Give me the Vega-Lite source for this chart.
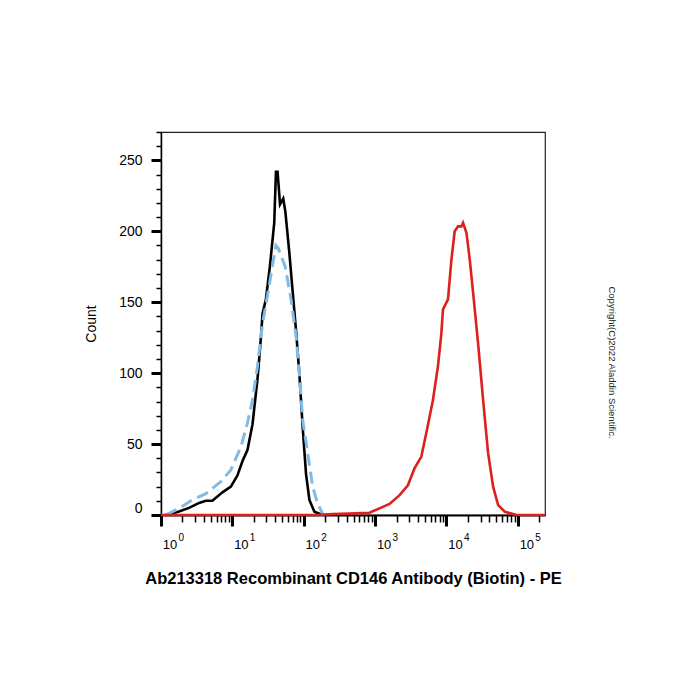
{
  "$schema": "https://vega.github.io/schema/vega-lite/v6.json",
  "width": 384,
  "height": 383,
  "autosize": "none",
  "padding": {"left": 161, "top": 132, "right": 155, "bottom": 185},
  "background": "white",
  "config": {
    "view": {"stroke": "#222", "strokeWidth": 1.2},
    "font": "Liberation Sans",
    "axis": {"grid": false, "labelColor": "#000", "titleColor": "#000", "tickColor": "#000", "domainColor": "#000", "labelFont": "Liberation Sans", "titleFont": "Liberation Sans"}
  },
  "data": {
    "values": [
      {"s": "black", "x": 1.164, "c": 0},
      {"s": "black", "x": 1.79, "c": 2.5},
      {"s": "black", "x": 2.47, "c": 5},
      {"s": "black", "x": 3.42, "c": 8.5},
      {"s": "black", "x": 4.25, "c": 10},
      {"s": "black", "x": 5.25, "c": 10},
      {"s": "black", "x": 7.26, "c": 16},
      {"s": "black", "x": 9.53, "c": 20},
      {"s": "black", "x": 11.8, "c": 28},
      {"s": "black", "x": 13.87, "c": 38},
      {"s": "black", "x": 16.3, "c": 46},
      {"s": "black", "x": 19.14, "c": 64},
      {"s": "black", "x": 22.5, "c": 96},
      {"s": "black", "x": 24.5, "c": 118},
      {"s": "black", "x": 26.5, "c": 142},
      {"s": "black", "x": 29.5, "c": 152},
      {"s": "black", "x": 33.5, "c": 175},
      {"s": "black", "x": 38.6, "c": 206},
      {"s": "black", "x": 40.8, "c": 242},
      {"s": "black", "x": 43.0, "c": 242},
      {"s": "black", "x": 46.5, "c": 219},
      {"s": "black", "x": 51.6, "c": 223},
      {"s": "black", "x": 55.2, "c": 214},
      {"s": "black", "x": 62.8, "c": 185},
      {"s": "black", "x": 69.8, "c": 158},
      {"s": "black", "x": 78.0, "c": 130},
      {"s": "black", "x": 86.7, "c": 100},
      {"s": "black", "x": 96.6, "c": 62},
      {"s": "black", "x": 107.6, "c": 29},
      {"s": "black", "x": 120, "c": 10.6},
      {"s": "black", "x": 141, "c": 2.3},
      {"s": "black", "x": 184, "c": 0},
      {"s": "blue", "x": 1.164, "c": 0},
      {"s": "blue", "x": 1.79, "c": 4.7},
      {"s": "blue", "x": 2.75, "c": 10.6},
      {"s": "blue", "x": 4.25, "c": 15},
      {"s": "blue", "x": 6.89, "c": 23.5},
      {"s": "blue", "x": 9.53, "c": 31.8},
      {"s": "blue", "x": 13.16, "c": 48},
      {"s": "blue", "x": 16.3, "c": 65},
      {"s": "blue", "x": 19.14, "c": 81},
      {"s": "blue", "x": 22.5, "c": 105},
      {"s": "blue", "x": 26.5, "c": 135},
      {"s": "blue", "x": 32.9, "c": 162},
      {"s": "blue", "x": 36.5, "c": 176},
      {"s": "blue", "x": 40.8, "c": 190},
      {"s": "blue", "x": 44.0, "c": 188},
      {"s": "blue", "x": 55.0, "c": 175},
      {"s": "blue", "x": 66.4, "c": 152},
      {"s": "blue", "x": 78.0, "c": 126},
      {"s": "blue", "x": 86.7, "c": 100},
      {"s": "blue", "x": 96.6, "c": 67},
      {"s": "blue", "x": 113.5, "c": 43.6},
      {"s": "blue", "x": 133.4, "c": 20},
      {"s": "blue", "x": 156.7, "c": 8},
      {"s": "blue", "x": 188, "c": 0},
      {"s": "red", "x": 1, "c": 0},
      {"s": "red", "x": 150, "c": 0},
      {"s": "red", "x": 250, "c": 0.6},
      {"s": "red", "x": 437, "c": 1},
      {"s": "red", "x": 834, "c": 1.6},
      {"s": "red", "x": 1153, "c": 4.7},
      {"s": "red", "x": 1592, "c": 7.8},
      {"s": "red", "x": 2203, "c": 14},
      {"s": "red", "x": 2879, "c": 21},
      {"s": "red", "x": 3574, "c": 33},
      {"s": "red", "x": 4437, "c": 41},
      {"s": "red", "x": 5220, "c": 58},
      {"s": "red", "x": 6460, "c": 81},
      {"s": "red", "x": 7600, "c": 105},
      {"s": "red", "x": 8470, "c": 128},
      {"s": "red", "x": 8930, "c": 145},
      {"s": "red", "x": 10500, "c": 152},
      {"s": "red", "x": 11720, "c": 180},
      {"s": "red", "x": 13030, "c": 200},
      {"s": "red", "x": 14520, "c": 203.5},
      {"s": "red", "x": 16190, "c": 203.5},
      {"s": "red", "x": 17060, "c": 206},
      {"s": "red", "x": 19040, "c": 199},
      {"s": "red", "x": 21190, "c": 180},
      {"s": "red", "x": 23570, "c": 157},
      {"s": "red", "x": 27720, "c": 121},
      {"s": "red", "x": 32600, "c": 81},
      {"s": "red", "x": 38300, "c": 43.6},
      {"s": "red", "x": 45000, "c": 20},
      {"s": "red", "x": 52900, "c": 7},
      {"s": "red", "x": 65600, "c": 2.3},
      {"s": "red", "x": 95900, "c": 0},
      {"s": "red", "x": 240000, "c": 0}
    ]
  },
  "resolve": {"axis": {"x": "independent", "y": "independent"}},
  "layer": [
    {
      "transform": [{"filter": "datum.s === 'black'"}],
      "mark": {"type": "line", "color": "#000000", "strokeWidth": 2.6},
      "encoding": {
        "x": {
          "field": "x", "type": "quantitative",
          "scale": {"type": "log", "domain": [1, 240000], "nice": false},
          "axis": {
            "orient": "bottom",
            "values": [1, 10, 100, 1000, 10000, 100000],
            "labelExpr": "'10'",
            "labelFontSize": 13,
            "labelOffset": 8.5,
            "labelPadding": 12,
            "labelFlush": false,
            "labelOverlap": false,
            "tickSize": 11,
            "tickWidth": 3,
            "domainWidth": 1.8,
            "title": "Ab213318 Recombinant CD146 Antibody (Biotin) - PE",
            "titleFontSize": 16.5,
            "titleFontWeight": "bold",
            "titlePadding": 19
          }
        },
        "y": {
          "field": "c", "type": "quantitative",
          "scale": {"domain": [0, 270], "nice": false},
          "axis": {
            "orient": "left",
            "values": [0, 50, 100, 150, 200, 250],
            "labelFontSize": 14,
            "labelPadding": 9,
            "labelFlush": true,
            "tickSize": 10,
            "tickWidth": 3,
            "domainWidth": 1.5,
            "title": "Count",
            "titleFontSize": 14,
            "titleFontWeight": "normal",
            "titlePadding": 20
          }
        }
      }
    },
    {
      "transform": [{"filter": "datum.s === 'blue'"}],
      "mark": {"type": "line", "color": "#82bbe6", "strokeWidth": 3, "strokeDash": [12, 6]},
      "encoding": {
        "x": {
          "field": "x", "type": "quantitative",
          "axis": {
            "orient": "bottom",
            "values": [2, 3, 4, 5, 6, 7, 8, 9, 20, 30, 40, 50, 60, 70, 80, 90, 200, 300, 400, 500, 600, 700, 800, 900, 2000, 3000, 4000, 5000, 6000, 7000, 8000, 9000, 20000, 30000, 40000, 50000, 60000, 70000, 80000, 90000, 200000],
            "labels": false,
            "domain": false,
            "tickSize": 7,
            "tickWidth": 1.5,
            "title": null
          }
        },
        "y": {
          "field": "c", "type": "quantitative",
          "axis": {
            "orient": "left",
            "values": [10, 20, 30, 40, 60, 70, 80, 90, 110, 120, 130, 140, 160, 170, 180, 190, 210, 220, 230, 240, 260, 270],
            "labels": false,
            "domain": false,
            "tickSize": 5,
            "tickWidth": 1.5,
            "title": null
          }
        }
      }
    },
    {
      "transform": [{"filter": "datum.s === 'red'"}],
      "mark": {"type": "line", "color": "#de1f1c", "strokeWidth": 2.6},
      "encoding": {
        "x": {
          "field": "x", "type": "quantitative",
          "axis": {
            "orient": "bottom",
            "values": [1, 10, 100, 1000, 10000, 100000],
            "labelExpr": "'' + round(log(datum.value) / LN10)",
            "labelFontSize": 10,
            "labelOffset": 19.7,
            "labelPadding": 6,
            "labelFlush": false,
            "labelOverlap": false,
            "tickSize": 11,
            "tickOpacity": 0,
            "domain": false,
            "title": null
          }
        },
        "y": {
          "field": "c", "type": "quantitative",
          "axis": {
            "orient": "right",
            "labels": false,
            "ticks": false,
            "domain": false,
            "title": "Copyright(C)2022 Aladdin Scientific.",
            "titleFontSize": 9.5,
            "titleFontWeight": "normal",
            "titleColor": "#222222",
            "titleAngle": 90,
            "titleAlign": "center",
            "titleBaseline": "middle",
            "titleX": 66,
            "titleY": 230
          }
        }
      }
    }
  ]
}
